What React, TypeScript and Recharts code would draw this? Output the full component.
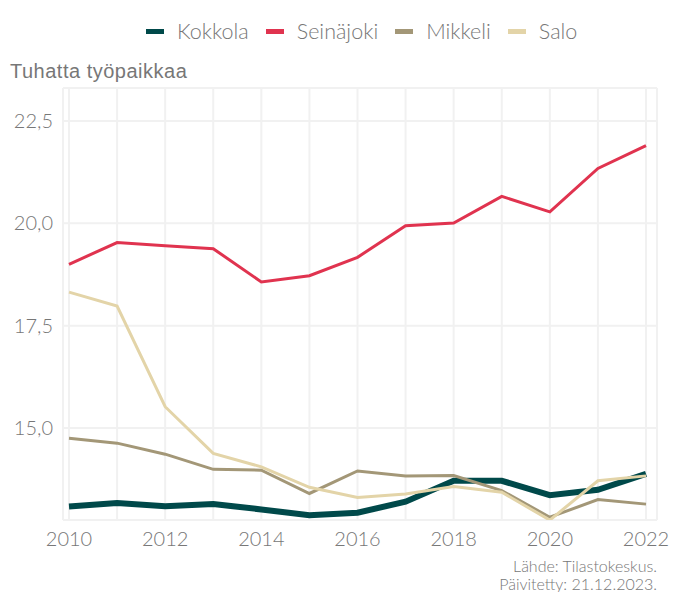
import React from 'react';
import { LineChart, Line, XAxis, YAxis, CartesianGrid } from 'recharts';

const years = [2010, 2011, 2012, 2013, 2014, 2015, 2016, 2017, 2018, 2019, 2020, 2021, 2022];
const kokkola = [13.08, 13.17, 13.09, 13.14, 13.01, 12.87, 12.93, 13.2, 13.71, 13.71, 13.36, 13.49, 13.88];
const seinajoki = [19.0, 19.53, 19.45, 19.38, 18.57, 18.72, 19.17, 19.94, 20.01, 20.66, 20.28, 21.34, 21.9];
const mikkeli = [14.75, 14.63, 14.36, 13.99, 13.97, 13.4, 13.95, 13.83, 13.84, 13.47, 12.82, 13.25, 13.14];
const salo = [18.32, 17.98, 15.52, 14.38, 14.05, 13.55, 13.3, 13.39, 13.57, 13.43, 12.75, 13.71, 13.83];
const yTicks = [15, 17.5, 20, 22.5];
const seriesNames = ['Kokkola', 'Seinäjoki', 'Mikkeli', 'Salo'];
const seriesColors = ['#00494a', '#e0334f', '#a39777', '#e3d4a8'];
const seriesWidths = [6, 3, 3, 3];
const yTitle = 'Tuhatta työpaikkaa';
const sourceLines = ['Lähde: Tilastokeskus.', 'Päivitetty: 21.12.2023.'];

const seriesValues = [kokkola, seinajoki, mikkeli, salo];
const data = years.map((y, i) => {
  const row: any = { year: y };
  seriesNames.forEach((n, s) => {
    row[n] = seriesValues[s][i];
  });
  return row;
});

const FONT = 'Lato, "Open Sans", sans-serif';
const GRAY = '#777777';

export default function App() {
  return (
    <div style={{ position: 'absolute', left: 0, top: 0, width: 682, height: 592, background: '#fff' }}>
      <div
        style={{
          position: 'absolute',
          top: 18,
          left: 146,
          display: 'flex',
          fontFamily: FONT,
          fontWeight: 300,
          fontSize: 21.5,
          color: GRAY,
          lineHeight: '26px',
          whiteSpace: 'nowrap',
        }}
      >
        {seriesNames.map((n, i) => (
          <div key={n} style={{ display: 'flex', alignItems: 'center', marginRight: i < 3 ? 17 : 0 }}>
            <span style={{ display: 'inline-block', width: 18, height: 5, background: seriesColors[i], marginRight: 13, marginTop: 1 }} />
            <span>{n}</span>
          </div>
        ))}
      </div>
      <div
        style={{
          position: 'absolute',
          left: 10,
          top: 59,
          fontFamily: '"Liberation Sans", Arial, sans-serif',
          fontSize: 20,
          letterSpacing: 0.5,
          color: GRAY,
          lineHeight: '24px',
          whiteSpace: 'nowrap',
        }}
      >
        {yTitle}
      </div>
      <LineChart width={682} height={592} data={data} margin={{ top: 88, right: 25, left: 0, bottom: 32 }}>
        <CartesianGrid stroke="#f1f1f1" strokeWidth={2} vertical={true} horizontal={true} />
        <XAxis
          dataKey="year"
          type="number"
          domain={[2010, 2022]}
          ticks={years}
          interval={0}
          padding={{ left: 6, right: 11 }}
          axisLine={false}
          tickLine={false}
          tickSize={0}
          tickMargin={12}
          height={40}
          tick={{ fill: GRAY, fontSize: 20, fontFamily: FONT, fontWeight: 300 }}
          tickFormatter={(v: number) => (v % 2 === 0 ? String(v) : '')}
        />
        <YAxis
          type="number"
          domain={[12.752, 23.307]}
          ticks={yTicks}
          allowDataOverflow={true}
          width={63}
          axisLine={false}
          tickLine={false}
          tickSize={0}
          tickMargin={10}
          tick={{ fill: GRAY, fontSize: 20, fontFamily: FONT, fontWeight: 300 }}
          tickFormatter={(v: number) => v.toFixed(1).replace('.', ',')}
        />
        {seriesNames.map((n, i) => (
          <Line
            key={n}
            type="linear"
            dataKey={n}
            stroke={seriesColors[i]}
            strokeWidth={seriesWidths[i]}
            dot={false}
            activeDot={false}
            isAnimationActive={false}
          />
        ))}
      </LineChart>
      <div
        style={{
          position: 'absolute',
          right: 682 - 657,
          top: 557,
          textAlign: 'right',
          fontFamily: FONT,
          fontWeight: 300,
          fontSize: 16,
          color: GRAY,
          lineHeight: '18px',
          whiteSpace: 'nowrap',
        }}
      >
        {sourceLines.map((l) => (
          <div key={l}>{l}</div>
        ))}
      </div>
    </div>
  );
}
